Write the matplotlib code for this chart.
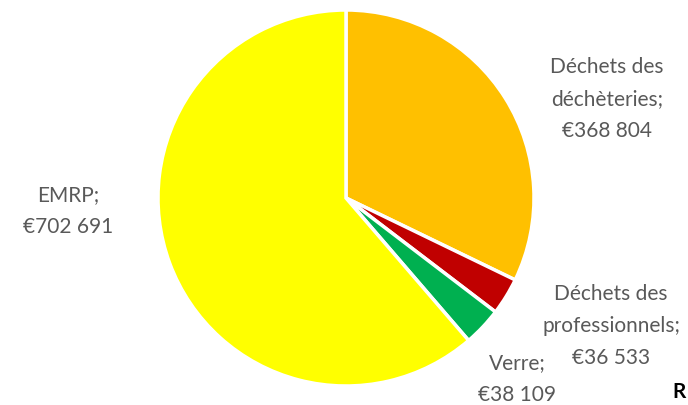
import matplotlib.pyplot as plt

categories = ['Déchets des\ndéchèteries;', 'Déchets des\nprofessionnels;', 'Verre;', 'EMRP;']
values = [368804, 36533, 38109, 702691]
value_labels = ['€368 804', '€36 533', '€38 109', '€702 691']
colors = ['#FFC000', '#C00000', '#00B050', '#FFFF00']

W, H = 688, 406
fig = plt.figure(figsize=(W / 100, H / 100), dpi=100)

# pie centre ~ (346, 199) px, radius ~ 188 px
cx, cy, r = 346, 199, 188
ax = fig.add_axes([(cx - r) / W, (H - cy - r) / H, 2 * r / W, 2 * r / H])
ax.pie(values, colors=colors, startangle=90, counterclock=False,
       wedgeprops=dict(edgecolor='white', linewidth=2.5))
ax.set_xlim(-1, 1)
ax.set_ylim(-1, 1)
ax.set_aspect('equal')
ax.axis('off')

# label centres in pixels
label_pos = [(607, 99), (611, 326), (517, 379), (68, 211)]
for cat, val, (x, y) in zip(categories, value_labels, label_pos):
    fig.text(x / W, 1 - y / H, cat + '\n' + val, ha='center', va='center',
             fontsize=15, color='#595959', family=['Lato', 'DejaVu Sans'],
             linespacing=1.72)

fig.text(672 / W, 1 - 392 / H, 'R', ha='left', va='center', fontsize=15,
         fontweight='bold', color='black', family=['Lato', 'DejaVu Sans'])

fig.savefig('out.png', dpi=100)
